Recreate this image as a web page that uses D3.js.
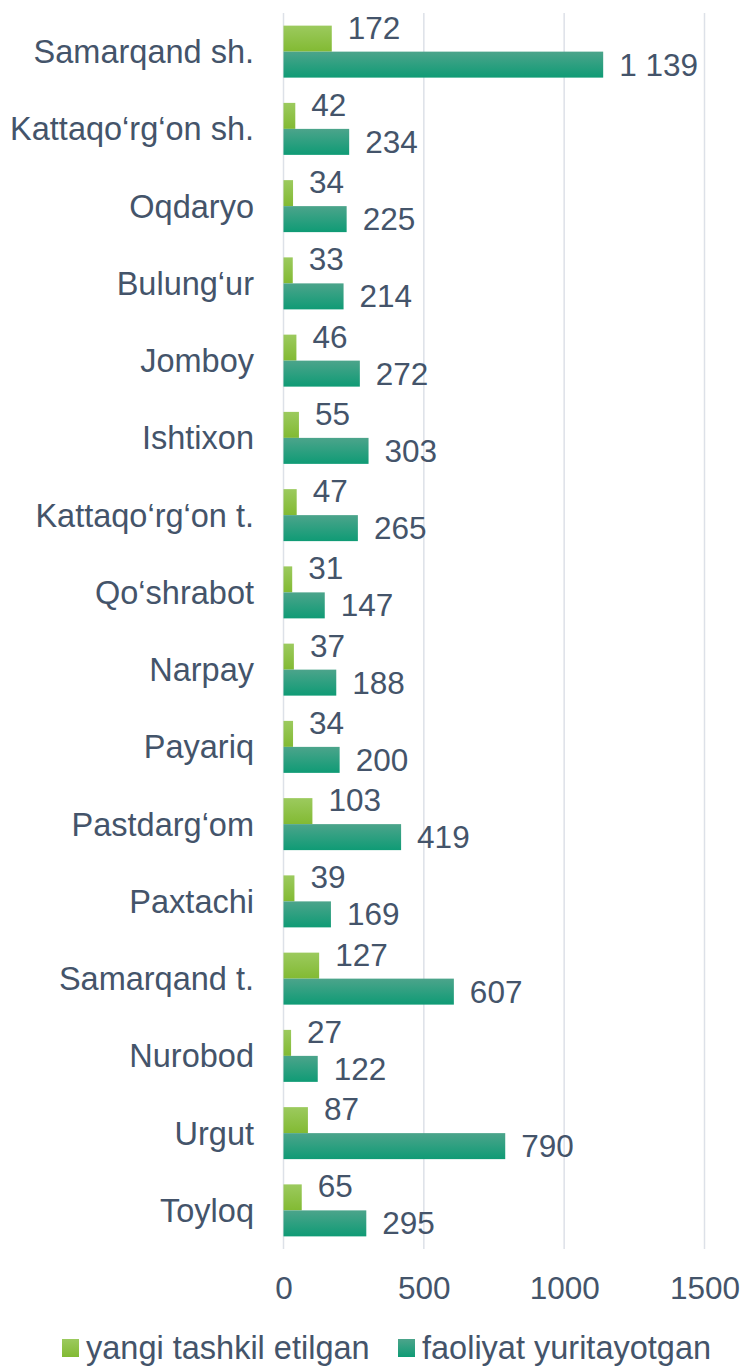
<!DOCTYPE html>
<html><head><meta charset="utf-8">
<script src="https://cdn.jsdelivr.net/npm/d3@7"></script>
<style>body{margin:0;background:#fff}svg{display:block}text{font-family:"Liberation Sans",Arial,sans-serif;fill:#44546A}</style>
</head><body>
<script>
const categories = ["Samarqand sh.","Kattaqo‘rg‘on sh.","Oqdaryo","Bulung‘ur","Jomboy","Ishtixon","Kattaqo‘rg‘on t.","Qo‘shrabot","Narpay","Payariq","Pastdarg‘om","Paxtachi","Samarqand t.","Nurobod","Urgut","Toyloq"];
const yangi = [172,42,34,33,46,55,47,31,37,34,103,39,127,27,87,65];
const faoliyat = [1139,234,225,214,272,303,265,147,188,200,419,169,607,122,790,295];
const seriesNames = ["yangi tashkil etilgan","faoliyat yuritayotgan"];
const xTicks = [0,500,1000,1500];

const W=743,H=1367;
const svg=d3.select("body").append("svg").attr("width",W).attr("height",H);
const defs=svg.append("defs");
function grad(id,c1,c2){const g=defs.append("linearGradient").attr("id",id).attr("x1",0).attr("y1",0).attr("x2",0).attr("y2",1);
 g.append("stop").attr("offset","0%").attr("stop-color",c1);g.append("stop").attr("offset","100%").attr("stop-color",c2);}
grad("gG","#9CCA5E","#82BA33");
grad("gT","#4CA48B","#0F9B75");
const fills=["url(#gG)","url(#gT)"];

const x=d3.scaleLinear().domain([0,1500]).range([283.5,704.5]);
const y=d3.scaleBand().domain(categories).range([13,1249]).paddingInner(0.327).paddingOuter(0.1635);
const sub=d3.scaleBand().domain([0,1]).range([0,y.bandwidth()]);

// gridlines
svg.append("g").selectAll("line").data(xTicks).join("line")
 .attr("x1",d=>x(d)).attr("x2",d=>x(d)).attr("y1",13).attr("y2",1249)
 .attr("stroke","#DDE1E8").attr("stroke-width",1.5);

const rows=categories.map((c,i)=>({c,vals:[yangi[i],faoliyat[i]]}));
const fmt=v=>d3.format(",")(v).replace(/,/g," ");
const g=svg.append("g").selectAll("g").data(rows).join("g").attr("transform",d=>`translate(0,${y(d.c)})`);
g.selectAll("rect").data(d=>d.vals.map((v,k)=>({v,k}))).join("rect")
 .attr("x",x(0)).attr("y",d=>sub(d.k)).attr("width",d=>x(d.v)-x(0)).attr("height",sub.bandwidth())
 .attr("fill",d=>fills[d.k]);
g.selectAll("text.v").data(d=>d.vals.map((v,k)=>({v,k}))).join("text").attr("class","v")
 .attr("x",d=>x(d.v)+16).attr("y",d=>sub(d.k)+sub.bandwidth()/2+(d.k===0?-11:0))
 .attr("dy","0.35em").attr("font-size",31.5).text(d=>fmt(d.v));

// category labels
svg.append("g").selectAll("text").data(categories).join("text")
 .attr("x",254).attr("y",d=>y(d)+y.bandwidth()/2).attr("dy","0.35em").attr("text-anchor","end")
 .attr("font-size",32.5).text(d=>d);

// x axis labels
const ax=svg.append("g").attr("transform","translate(0,1288)").call(d3.axisBottom(x).tickValues(xTicks).tickFormat(d3.format("d")).tickSize(0).tickPadding(0));
ax.select(".domain").remove();
ax.selectAll("text").attr("font-size",31.5).attr("dy","0.35em").attr("fill","#44546A").attr("font-family","Liberation Sans, Arial, sans-serif");

// legend
const leg=[{x:62,name:seriesNames[0],f:fills[0]},{x:398,name:seriesNames[1],f:fills[1]}];
const lg=svg.append("g").selectAll("g").data(leg).join("g").attr("transform",d=>`translate(${d.x},1339)`);
lg.append("rect").attr("width",17).attr("height",18).attr("fill",d=>d.f);
lg.append("text").attr("x",24).attr("y",9).attr("dy","0.35em").attr("font-size",32.5).text(d=>d.name);
</script>
</body></html>
